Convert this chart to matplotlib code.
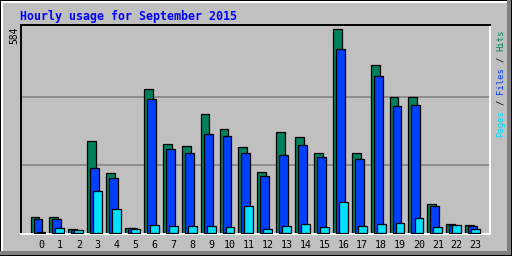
import matplotlib
matplotlib.use("Agg")
import matplotlib.pyplot as plt
from matplotlib.patches import Rectangle
from matplotlib.transforms import blended_transform_factory, IdentityTransform

# hourly totals
hours = list(range(24))
hour_labels = [str(h) for h in hours]
hits = [46, 46, 11, 263, 171, 14, 414, 254, 248, 340, 297, 245,
        174, 288, 274, 228, 584, 228, 480, 389, 391, 83, 26, 23]
files = [39, 39, 9, 185, 157, 13, 383, 242, 228, 285, 277, 228,
         162, 222, 251, 217, 526, 211, 449, 363, 366, 76, 24, 19]
pages = [4, 13, 8, 120, 68, 11, 23, 20, 20, 20, 17, 77,
         11, 20, 26, 17, 89, 20, 26, 29, 43, 17, 22, 11]
max_label = "584"
title = "Hourly usage for September 2015"

BG = "#C0C0C0"
GREEN = "#00805C"
BLUE = "#0040FF"
CYAN = "#00E0FF"
W, H = 512, 256
MONO = "DejaVu Sans Mono"

fig = plt.figure(figsize=(W / 100, H / 100), dpi=100, facecolor=BG)


def px_rect(x0, y0, x1, y1, color):
    # rectangle in image pixels, y measured from the top
    fig.add_artist(Rectangle((x0, H - y1), x1 - x0, y1 - y0, transform=IdentityTransform(),
                             facecolor=color, edgecolor="none", zorder=0))


# 3d frame around the image
px_rect(0, 0, W, 1, "black")
px_rect(0, 0, 1, H, "black")
px_rect(1, 1, W - 1, 3, "white")
px_rect(1, 1, 3, H - 1, "white")
px_rect(0, H - 5, W, H, "#808080")
px_rect(W - 5, 0, W, H, "#808080")
px_rect(0, H - 1, W, H, "black")
px_rect(W - 1, 0, W, H, "black")

# plot area
left, right, top, bottom = 21, 490, 25, 234
ax = fig.add_axes([left / W, 1 - bottom / H, (right - left) / W, (bottom - top) / H])
ax.set_facecolor(BG)
ax.set_xlim(-1.06, 23.76)
ax.set_ylim(-3, 596)

for v in (584 / 3, 2 * 584 / 3):
    ax.axhline(v, color="#808080", lw=1.1, zorder=1)

bw = 0.47
ax.bar([h - 0.32 for h in hours], hits, width=bw, color=GREEN, edgecolor="black", lw=0.9, zorder=2)
ax.bar([h - 0.16 for h in hours], files, width=bw, color=BLUE, edgecolor="black", lw=0.9, zorder=3)
ax.bar(hours, pages, width=bw, color=CYAN, edgecolor="black", lw=0.9, zorder=4)

for side in ("top", "left"):
    ax.spines[side].set_color("black")
    ax.spines[side].set_linewidth(1.4)
for side in ("bottom", "right"):
    ax.spines[side].set_color("white")
    ax.spines[side].set_linewidth(1.4)
ax.set_yticks([])
ax.set_xticks([])

# hour labels under the bars
tr = blended_transform_factory(ax.transData, IdentityTransform())
for h, lab in zip(hours, hour_labels):
    ax.text(h, H - 245, lab, transform=tr, ha="center", va="center",
            family=MONO, fontsize=7.2, color="black", clip_on=False)

fig.text(20 / W, 1 - 20 / H, title, family=MONO, fontweight="bold", fontsize=8.4,
         color="#0000FF", ha="left", va="baseline")
fig.text(14.5 / W, 1 - 27 / H, max_label, family=MONO, fontsize=6.9, rotation=90,
         ha="center", va="top", color="black")

# legend on the right, read bottom to top
adv = 5.35
y0 = 137
pieces = [("Pages", 0, CYAN), ("/", 6, "black"), ("Files", 8, BLUE), ("/", 14, "black"), ("Hits", 16, GREEN)]
for txt, start, col in pieces:
    yc = y0 - (start + len(txt) / 2) * adv
    fig.text(500.5 / W, 1 - yc / H, txt, family=MONO, fontsize=6.4, rotation=90,
             ha="center", va="center", color=col)

fig.savefig("out.png", dpi=100, facecolor=BG)
